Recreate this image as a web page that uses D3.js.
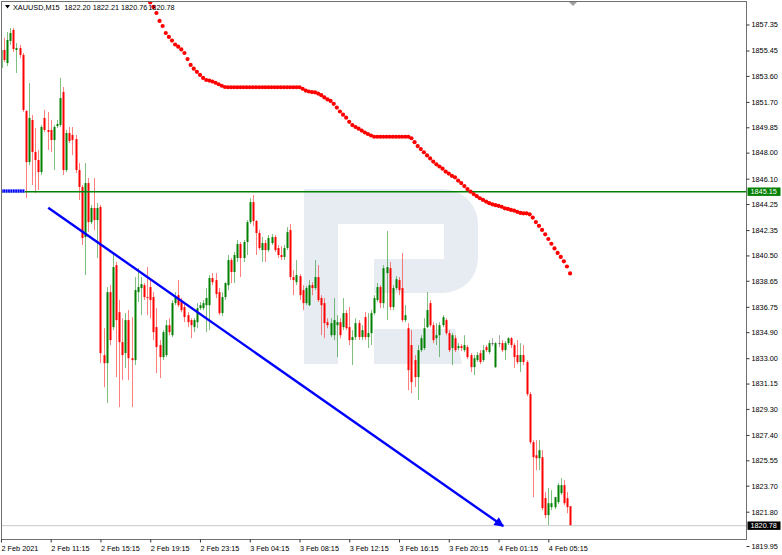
<!DOCTYPE html>
<html><head><meta charset="utf-8">
<script src="https://cdn.jsdelivr.net/npm/d3@7"></script>
<style>
body{margin:0;background:#fff;}
svg{display:block;font-family:"Liberation Sans",Arial,sans-serif;}
</style>
</head><body>
<svg id="c" width="782" height="555"></svg>
<script>
// ---------------- DATA ----------------
const symbol = "XAUUSD,M15";
const lastQuote = ["1822.20", "1822.21", "1820.76", "1820.78"];

const opens = [1854.18,1855.49,1854.54,1856.15,1856.95,1855.49,1855.63,1855.13,1851.04,1847.31,
1850.38,1848.05,1847.46,1846.58,1850.53,1849.65,1849.65,1848.92,1849.94,1850.02,
1852.42,1846.73,1849.43,1849.29,1848.99,1846.73,1845.49,1841.84,1845.78,1842.93,
1843.96,1843.08,1844.03,1833.22,1832.64,1837.82,1835.27,1839.79,1836.36,1834.17,
1833.37,1835.78,1833.00,1832.86,1837.82,1838.12,1838.33,1837.46,1838.19,1837.46,
1835.27,1833.96,1833.08,1833.23,1835.41,1834.68,1837.02,1837.60,1837.10,1836.73,
1836.14,1835.78,1835.27,1835.63,1836.65,1836.65,1836.87,1836.87,1838.85,1838.70,
1837.82,1836.29,1837.46,1838.33,1840.16,1839.29,1840.31,1841.33,1840.31,1841.48,
1842.93,1844.39,1843.01,1842.13,1840.89,1841.40,1840.89,1841.40,1841.84,1841.04,
1840.53,1840.38,1841.04,1842.35,1838.92,1838.55,1838.99,1837.97,1837.02,1836.87,
1838.33,1838.12,1838.92,1837.39,1837.02,1835.63,1834.68,1834.68,1835.41,1835.63,
1835.27,1836.29,1835.27,1834.32,1834.54,1835.56,1834.54,1836.00,1834.54,1834.83,
1836.29,1837.24,1838.19,1837.02,1839.21,1839.57,1836.73,1838.12,1838.70,1838.12,
1835.78,1835.19,1833.96,1832.86,1831.62,1833.59,1833.74,1835.27,1837.02,1835.41,
1834.46,1834.68,1835.41,1835.78,1834.83,1833.74,1834.46,1833.74,1833.88,1833.59,
1833.81,1833.23,1832.35,1832.86,1833.37,1832.86,1833.81,1833.45,1834.10,1832.35,
1834.10,1834.10,1833.59,1834.10,1834.46,1833.96,1833.23,1832.72,1833.23,1832.72,
1830.38,1826.87,1825.92,1825.70,1825.78,1822.79,1821.55,1822.13,1822.13,1822.50,
1823.15,1823.74,1822.79,1822.20];

const highs = [1855.86,1856.37,1856.80,1857.10,1857.10,1856.00,1855.86,1855.27,1851.11,1853.08,
1850.75,1849.80,1848.19,1850.02,1851.11,1850.97,1850.38,1850.02,1850.38,1853.45,
1852.79,1849.65,1849.87,1849.87,1849.29,1847.24,1845.64,1847.24,1846.15,1844.18,
1846.15,1844.32,1844.18,1835.19,1838.19,1838.33,1840.67,1840.01,1837.24,1835.92,
1836.29,1836.51,1836.00,1838.92,1839.57,1838.92,1838.48,1839.65,1838.85,1837.82,
1836.65,1834.32,1835.05,1835.78,1835.92,1837.24,1837.82,1838.70,1837.39,1837.10,
1836.36,1835.92,1835.92,1837.02,1837.10,1837.24,1838.12,1839.07,1839.21,1839.21,
1838.12,1837.82,1838.55,1840.53,1840.31,1840.75,1841.62,1841.48,1841.62,1843.08,
1844.68,1844.91,1843.08,1842.35,1841.84,1841.62,1841.99,1842.06,1841.99,1841.26,
1841.18,1841.26,1842.57,1842.79,1839.43,1840.16,1839.14,1838.33,1838.26,1838.70,
1838.55,1840.16,1839.79,1837.60,1837.39,1835.92,1835.92,1837.39,1836.14,1835.92,
1837.39,1836.51,1836.73,1835.05,1835.92,1835.78,1835.41,1836.36,1836.29,1836.51,
1837.60,1838.48,1838.33,1839.79,1842.28,1840.01,1838.33,1838.99,1838.92,1840.67,
1836.87,1835.56,1835.05,1833.23,1833.96,1834.68,1835.92,1837.82,1837.24,1835.63,
1835.56,1835.63,1836.14,1835.92,1835.05,1834.83,1834.68,1834.10,1834.03,1834.68,
1833.96,1833.37,1833.23,1833.45,1833.59,1833.96,1833.96,1834.32,1834.46,1834.17,
1834.68,1834.32,1834.25,1834.54,1834.54,1834.10,1834.32,1834.10,1833.96,1832.86,
1830.53,1827.02,1827.02,1827.02,1826.29,1823.23,1823.52,1823.37,1822.86,1823.88,
1824.25,1824.10,1823.23,1822.21];

const lows = [1854.03,1854.62,1854.32,1855.86,1855.34,1853.81,1854.91,1850.97,1844.68,1847.09,
1845.64,1845.05,1845.27,1846.37,1849.51,1848.19,1848.05,1846.73,1849.80,1849.87,
1846.37,1846.58,1848.70,1847.82,1846.51,1844.54,1841.26,1839.07,1842.20,1842.79,
1842.35,1840.31,1832.64,1830.89,1829.72,1833.96,1835.05,1831.62,1829.43,1831.40,
1832.28,1831.40,1829.43,1832.50,1837.10,1836.14,1837.24,1836.14,1835.92,1834.32,
1831.91,1831.55,1832.86,1833.08,1834.68,1834.54,1836.87,1836.73,1836.36,1835.63,
1835.27,1834.46,1834.90,1835.19,1836.51,1836.51,1834.90,1835.05,1838.33,1837.39,
1836.14,1836.07,1837.24,1837.97,1838.48,1838.48,1840.02,1838.92,1840.02,1840.53,
1842.79,1842.64,1840.53,1840.89,1840.02,1840.02,1840.75,1841.26,1840.75,1840.31,
1840.16,1840.16,1840.89,1838.70,1837.60,1838.33,1837.24,1836.51,1836.87,1836.80,
1837.60,1837.97,1837.10,1834.68,1834.46,1835.19,1834.54,1834.32,1833.08,1834.46,
1835.05,1835.05,1833.96,1832.50,1834.32,1834.32,1834.32,1834.32,1833.74,1833.96,
1836.14,1837.10,1836.65,1836.65,1835.78,1836.51,1836.51,1837.97,1837.60,1835.63,
1835.63,1830.67,1830.45,1830.89,1829.94,1833.45,1833.59,1835.19,1835.27,1834.10,
1833.96,1833.08,1835.27,1834.68,1833.45,1832.50,1833.45,1833.59,1833.52,1833.45,
1832.93,1831.98,1831.77,1832.72,1832.57,1832.72,1833.45,1833.30,1833.88,1832.28,
1833.81,1833.45,1832.86,1833.96,1833.74,1832.28,1832.57,1831.98,1832.50,1830.23,
1826.73,1822.86,1824.83,1824.83,1821.91,1821.33,1820.82,1821.91,1821.99,1822.35,
1823.01,1822.28,1821.69,1820.76];

const closes = [1855.49,1854.76,1856.22,1856.73,1855.56,1855.63,1855.13,1851.11,1847.31,1850.53,
1848.05,1847.46,1846.58,1849.87,1849.65,1849.51,1848.92,1849.87,1850.09,1851.98,
1846.73,1849.43,1848.85,1848.92,1846.73,1845.49,1841.77,1845.78,1842.93,1843.96,
1843.08,1843.96,1833.37,1832.64,1837.82,1834.32,1839.65,1835.78,1834.17,1833.23,
1835.78,1833.00,1832.86,1837.97,1838.19,1838.41,1837.46,1837.39,1837.24,1834.90,
1833.81,1833.08,1834.90,1835.41,1834.90,1837.02,1837.46,1836.87,1836.51,1836.00,
1835.63,1835.41,1835.78,1836.65,1836.87,1837.02,1837.39,1838.85,1838.55,1837.68,
1836.29,1837.46,1838.48,1840.16,1839.29,1840.53,1841.33,1840.31,1841.48,1842.93,
1844.39,1843.01,1842.13,1841.04,1841.40,1840.89,1841.77,1841.84,1840.89,1840.53,
1840.38,1841.04,1842.20,1838.92,1838.70,1839.07,1837.60,1837.02,1838.12,1838.33,
1838.12,1838.92,1837.24,1836.87,1835.56,1835.41,1835.56,1835.78,1835.63,1834.68,
1836.29,1835.19,1834.32,1834.54,1835.56,1834.54,1835.05,1834.54,1834.83,1836.29,
1837.39,1838.19,1837.02,1839.57,1839.65,1836.73,1838.12,1838.77,1837.97,1835.78,
1836.14,1832.13,1831.26,1831.62,1833.59,1834.46,1835.19,1836.51,1835.41,1834.32,
1834.68,1835.41,1835.99,1834.83,1833.59,1834.68,1833.59,1833.88,1833.74,1833.96,
1833.08,1832.35,1833.00,1833.23,1832.72,1833.59,1833.59,1834.10,1834.10,1834.10,
1834.10,1833.59,1834.10,1834.46,1833.96,1833.08,1832.72,1833.23,1832.72,1830.38,
1826.87,1825.78,1825.70,1826.29,1822.06,1821.55,1822.42,1822.42,1822.86,1823.74,
1823.74,1822.42,1822.13,1820.78];

// red dotted indicator, one value per bar starting at bar 48
const dotStartBar = 48;
const dotValues = [1858.96,1858.63,1858.19,1857.61,1857.24,1856.73,1856.44,1856.18,1855.89,1855.73,
1855.53,1855.27,1854.83,1854.40,1854.13,1853.90,1853.67,1853.45,1853.30,1853.26,
1853.19,1853.10,1852.99,1852.88,1852.79,
1852.77,1852.77,1852.77,1852.77,1852.77,1852.77,1852.77,1852.77,1852.77,1852.77,
1852.77,1852.77,1852.77,1852.77,1852.77,1852.77,1852.77,1852.77,1852.77,1852.77,
1852.77,1852.77,1852.77,1852.77,
1852.66,1852.53,1852.46,1852.42,1852.40,1852.31,1852.19,1852.03,1851.88,1851.77,
1851.56,1851.29,1851.00,1850.77,1850.55,1850.25,1850.01,1849.87,1849.75,1849.61,
1849.47,1849.36,1849.25,
1849.16,1849.16,1849.16,1849.16,1849.16,1849.16,1849.16,1849.16,1849.16,1849.16,
1849.16,1849.16,
1849.05,1848.76,1848.48,1848.26,1848.03,1847.80,1847.58,1847.35,1847.15,1846.99,
1846.83,1846.62,1846.47,1846.31,1846.20,1845.96,1845.78,1845.56,1845.34,1845.15,
1844.98,1844.82,1844.67,1844.55,1844.43,1844.31,1844.23,1844.17,1844.12,1844.05,
1843.94,1843.89,1843.82,1843.77,1843.68,1843.60,1843.57,1843.57,1843.50,1843.26,
1842.93,1842.66,1842.36,1842.04,1841.70,1841.35,1841.01,1840.68,1840.39,1840.07,
1839.69,1839.19];

const priceTicks = [1857.35,1855.45,1853.60,1851.70,1849.85,1848.00,1846.10,1844.25,1842.35,1840.50,
1838.65,1836.75,1834.90,1833.00,1831.15,1829.30,1827.40,1825.55,1823.70,1821.80,1819.95];

const timeLabels = ["2 Feb 2021","2 Feb 11:15","2 Feb 15:15","2 Feb 19:15","2 Feb 23:15","3 Feb 04:15",
"3 Feb 08:15","3 Feb 12:15","3 Feb 16:15","3 Feb 20:15","4 Feb 01:15","4 Feb 05:15"];
const timeLabelBars = [0,16,32,48,64,80,96,112,128,144,160,176];

const levelPrice = 1845.15;
const currentPrice = 1820.78;
const trendStart = {bar: 15.2, price: 1843.98};
const trendEnd = {bar: 161.5, price: 1820.75};
const markerLevel = {fromBar: 0, toBar: 7.7, price: 1845.2};

// ---------------- LAYOUT ----------------
const svg = d3.select("#c");
const frame = {left: 1.5, top: 1.5, right: 746.5, bottom: 539.5};
const x = d3.scaleLinear().domain([0, 183]).range([0.94, 570.07]);
const y = d3.scaleLinear().domain([1857.35, 1821.80]).range([24.5, 511.7]);

const GREEN = "#008000", RED = "#ff0000";
const fontSize = "7.3px";

svg.append("rect").attr("width", 782).attr("height", 555).attr("fill", "#fff");

const defs = svg.append("defs");
defs.append("clipPath").attr("id", "plotclip")
  .append("rect").attr("x", frame.left + 0.5).attr("y", frame.top + 0.5)
  .attr("width", frame.right - frame.left - 1).attr("height", frame.bottom - frame.top - 1);

// watermark
const wm = svg.append("g").attr("fill", "#e7ecf3");
wm.append("path").attr("d",
  "M304,189 H443 A35,35 0 0 1 478,224 V258 A35,35 0 0 1 443,293 H374 V259 H444 V224 H338 V364 H304 Z");
wm.append("path").attr("d", "M374,329 H455 L462,364 H374 Z");

const plot = svg.append("g").attr("clip-path", "url(#plotclip)");

// candles
const bars = opens.map((o, i) => ({i, o, h: highs[i], l: lows[i], c: closes[i]}));
const colorOf = d => d.c > d.o ? GREEN : (d.c < d.o ? RED : "#555");

plot.append("g").selectAll("line").data(bars).join("line")
  .attr("x1", d => Math.round(x(d.i)) + 0.5).attr("x2", d => Math.round(x(d.i)) + 0.5)
  .attr("y1", d => y(d.h)).attr("y2", d => y(d.l))
  .attr("stroke", colorOf).attr("stroke-width", 1).attr("stroke-opacity", 0.5);

plot.append("g").selectAll("rect").data(bars).join("rect")
  .attr("x", d => Math.round(x(d.i)) - 0.5)
  .attr("width", 2)
  .attr("y", d => y(Math.max(d.o, d.c)))
  .attr("height", d => Math.max(1, Math.abs(y(d.o) - y(d.c))))
  .attr("fill", colorOf);

// current price line
plot.append("line")
  .attr("x1", frame.left).attr("x2", frame.right)
  .attr("y1", y(currentPrice)).attr("y2", y(currentPrice))
  .attr("stroke", "#c8c8c8").attr("stroke-width", 1);

// green horizontal level
plot.append("line")
  .attr("x1", frame.left).attr("x2", frame.right)
  .attr("y1", y(levelPrice)).attr("y2", y(levelPrice))
  .attr("stroke", GREEN).attr("stroke-width", 1.5);

// blue hatched marker at left
plot.append("line")
  .attr("x1", x(markerLevel.fromBar)).attr("x2", x(markerLevel.toBar))
  .attr("y1", y(markerLevel.price)).attr("y2", y(markerLevel.price))
  .attr("stroke", "#8a8aff").attr("stroke-width", 3.2);
plot.append("line")
  .attr("x1", x(markerLevel.fromBar)).attr("x2", x(markerLevel.toBar))
  .attr("y1", y(markerLevel.price)).attr("y2", y(markerLevel.price))
  .attr("stroke", "#0000ff").attr("stroke-width", 3.2).attr("stroke-dasharray", "1.6,0.8");

// red dots
const dots = dotValues.map((v, k) => ({i: dotStartBar + k, v}));
plot.append("g").selectAll("circle").data(dots).join("circle")
  .attr("cx", d => x(d.i)).attr("cy", d => y(d.v)).attr("r", 2.1)
  .attr("fill", RED);

// blue trend arrow
defs.append("marker").attr("id", "arrow").attr("viewBox", "0 0 10 10")
  .attr("refX", 9).attr("refY", 5).attr("markerWidth", 4.5).attr("markerHeight", 4)
  .attr("orient", "auto").attr("markerUnits", "strokeWidth")
  .append("path").attr("d", "M0,0 L10,5 L0,10 Z").attr("fill", "#0000ff");
svg.append("line")
  .attr("x1", x(trendStart.bar)).attr("y1", y(trendStart.price))
  .attr("x2", x(trendEnd.bar)).attr("y2", y(trendEnd.price))
  .attr("stroke", "#0000ff").attr("stroke-width", 2.4)
  .attr("marker-end", "url(#arrow)");

// frame
svg.append("rect")
  .attr("x", frame.left).attr("y", frame.top)
  .attr("width", frame.right - frame.left).attr("height", frame.bottom - frame.top)
  .attr("fill", "none").attr("stroke", "#707070").attr("stroke-width", 1);

// y axis
const yAxis = d3.axisRight(y).tickValues(priceTicks).tickFormat(d3.format(".2f")).tickSize(3).tickPadding(2);
const yg = svg.append("g").attr("transform", `translate(${frame.right},0)`).call(yAxis);
yg.select(".domain").remove();
yg.selectAll(".tick line").attr("stroke", "#333");
yg.selectAll(".tick text").attr("font-size", fontSize).attr("fill", "#000")
  .attr("font-family", "'Liberation Sans',Arial,sans-serif");
// MT4 puts the lowest price label at the bottom edge of the window
yg.selectAll(".tick").filter(d => d === priceTicks[priceTicks.length - 1])
  .attr("transform", "translate(0,546.5)");

// x axis
const xAxis = d3.axisBottom(x).tickValues(timeLabelBars)
  .tickFormat((d, k) => timeLabels[k]).tickSize(3).tickPadding(2);
const xg = svg.append("g").attr("transform", `translate(0,${frame.bottom})`).call(xAxis);
xg.select(".domain").remove();
xg.selectAll(".tick line").attr("stroke", "#333");
xg.selectAll(".tick text").attr("font-size", fontSize).attr("fill", "#000")
  .attr("text-anchor", "start").attr("x", 0).attr("dy", "0.9em")
  .attr("font-family", "'Liberation Sans',Arial,sans-serif");

// price boxes on the axis
function priceBox(price, fill) {
  const g = svg.append("g").attr("transform", `translate(${frame.right + 1},${y(price)})`);
  g.append("rect").attr("x", 0).attr("y", -4.2).attr("width", 33).attr("height", 8.4).attr("fill", fill);
  g.append("text").attr("x", 3).attr("y", 0).attr("dy", "0.35em")
    .attr("font-size", fontSize).attr("fill", "#fff").text(d3.format(".2f")(price));
}
priceBox(levelPrice, GREEN);
priceBox(currentPrice, "#000");

// header
svg.append("path").attr("d", "M5,5 L10,5 L7.5,8.5 Z").attr("fill", "#000");
const header = svg.append("text").attr("x", 13).attr("y", 9.6)
  .attr("font-size", fontSize).attr("fill", "#000");
header.append("tspan").text(symbol);
header.append("tspan").attr("x", 64.3).text(lastQuote[0]);
header.append("tspan").attr("x", 92.7).text(lastQuote[1]);
header.append("tspan").attr("x", 121).text(lastQuote[2]);
header.append("tspan").attr("x", 148.3).text(lastQuote[3]);

// chart shift marker
svg.append("path").attr("d", "M569,2 L577,2 L573,6 Z").attr("fill", "#a0a0a0");
</script>
</body></html>
